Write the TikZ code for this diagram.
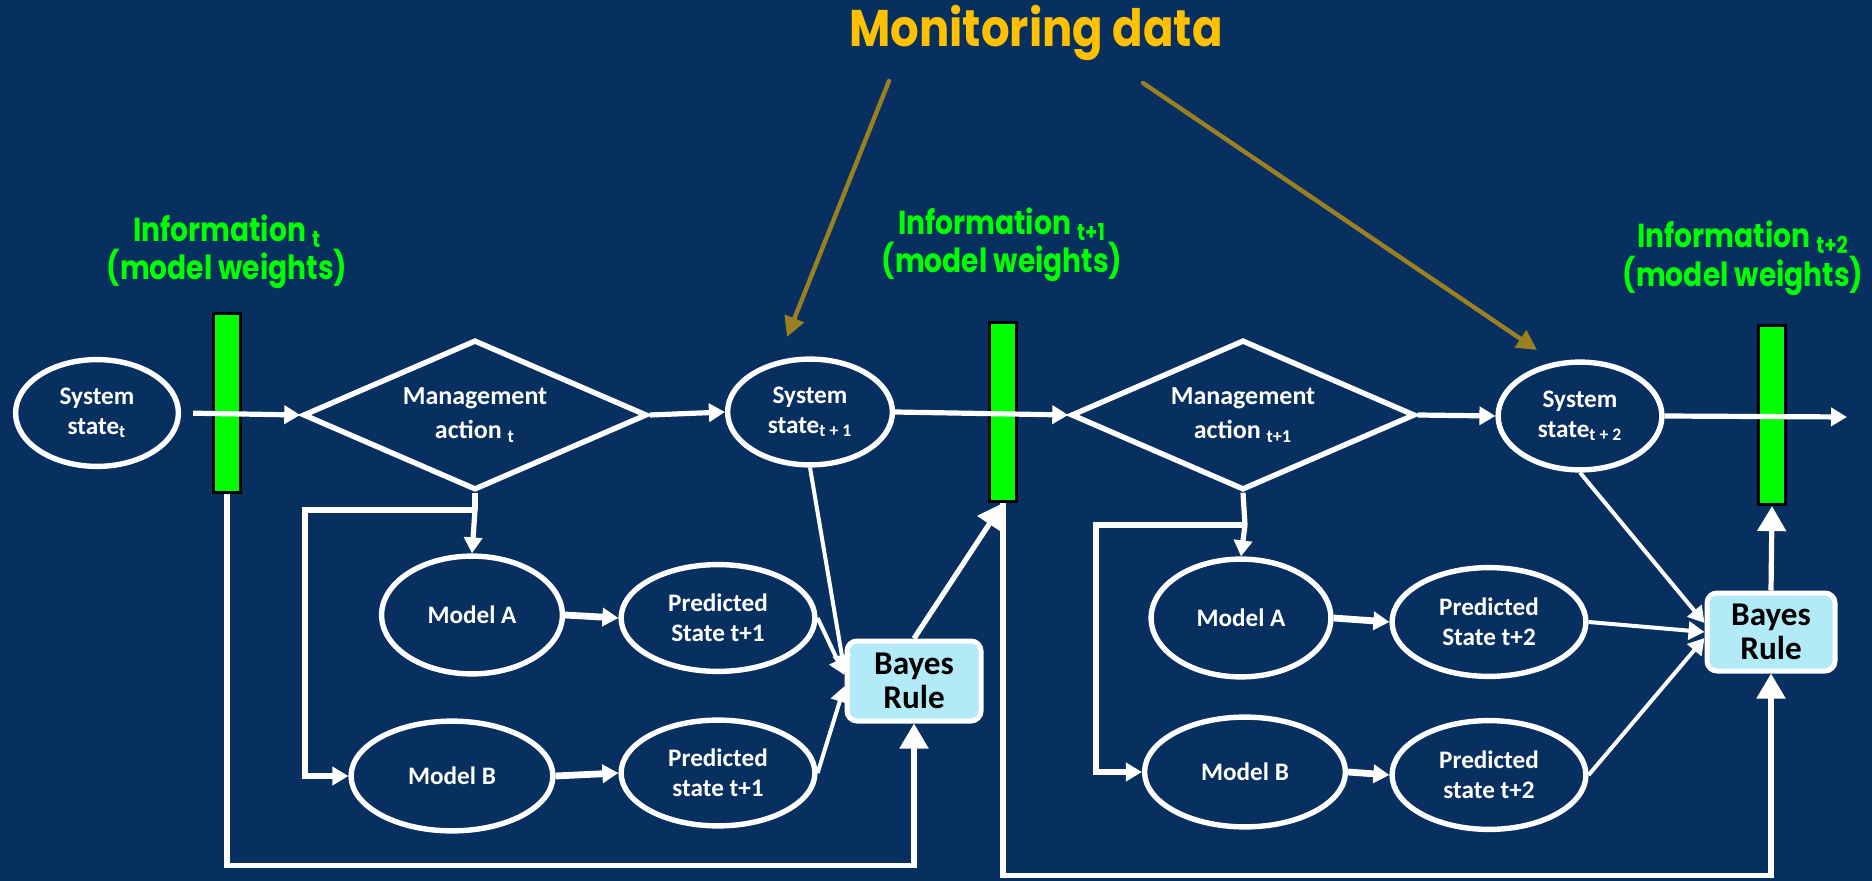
\documentclass[tikz,border=0pt]{standalone}
\usepackage{fontspec}
\usepackage{graphicx}
\setmainfont{Carlito}
\newfontfamily\geo{Poppins}
\usetikzlibrary{shapes.geometric,arrows.meta,calc}
\definecolor{bg}{RGB}{7,47,95}
\definecolor{barg}{RGB}{0,255,0}
\definecolor{lblg}{RGB}{0,255,0}
\definecolor{gold}{RGB}{154,128,34}
\definecolor{ttl}{RGB}{255,192,0}
\definecolor{bayesfill}{RGB}{178,234,248}
\newcommand\gx[1]{\scalebox{0.88}[1.04]{#1}}
\begin{document}
\begin{tikzpicture}[x=0.5pt,y=-0.5pt,
  state/.style={ellipse,draw=white,line width=2.7pt,fill=bg,text=white,
    font=\bfseries\fontsize{12.6}{15}\selectfont,align=center,inner sep=0pt},
  decision/.style={diamond,aspect=2.3,draw=white,line width=2.7pt,fill=bg,text=white,
    font=\bfseries\fontsize{13}{17}\selectfont,align=center,inner sep=0pt,
    minimum width=172pt,minimum height=75pt},
  infobar/.style={rectangle,draw=black,fill=barg,line width=1.6pt,
    minimum width=13.5pt,minimum height=89.5pt,inner sep=0pt},
  bayesbox/.style={rectangle,rounded corners=5pt,draw=white,line width=2.5pt,
    fill=bayesfill,text=black,font=\bfseries\fontsize{16.6}{17}\selectfont,
    align=center,inner sep=0pt},
  lbl/.style={text=lblg,font=\geo\bfseries\fontsize{16}{18}\selectfont,inner sep=0pt},
  wire/.style={draw=white,line width=2.6pt},
  conn/.style={wire,-{Triangle[length=8pt,width=9pt]}},
  thickconn/.style={draw=white,line width=3.4pt,-{Triangle[length=8pt,width=9pt]}},
  thinconn/.style={draw=white,line width=2pt,-{Triangle[length=8pt,width=9pt]}},
  bigconn/.style={wire,-{Triangle[length=12.5pt,width=14pt]}},
  goldarrow/.style={draw=gold,line width=2.2pt,line cap=round,-{Triangle[length=10pt,width=10pt]}}
]
\fill[bg] (0,0) rectangle (1872,881);
\useasboundingbox (0,0) rectangle (1872,881);

% title and labels
\node[text=ttl,font=\geo\bfseries\fontsize{25}{28}\selectfont,anchor=base,inner sep=0pt] (title) at (1036,47) {\scalebox{0.9}[1.03]{Monitoring data}};
\node[lbl,anchor=base] (i0a) at (227,242) {\gx{Information \textsubscript{t}}};
\node[lbl,anchor=base] (i0b) at (227,280) {\gx{(model weights)}};
\node[lbl,anchor=base] (i1a) at (1002,235) {\gx{Information \textsubscript{t+1}}};
\node[lbl,anchor=base] (i1b) at (1002,273) {\gx{(model weights)}};
\node[lbl,anchor=base] (i2a) at (1743,248) {\gx{Information \textsubscript{t+2}}};
\node[lbl,anchor=base] (i2b) at (1743,287) {\gx{(model weights)}};

% top row
\node[state,minimum width=81.4pt,minimum height=53.4pt] (s0) at (97,413) {System\\state\textsubscript{t}};
\node[infobar] (bar0) at (227,403) {};
\node[decision] (d0) at (475,415) {Management\\action \textsubscript{t}};
\node[state,minimum width=82.4pt,minimum height=52.9pt] (s1) at (810,412) {System\\state\textsubscript{t + 1}};
\node[infobar] (bar1) at (1003,412) {};
\node[decision] (d1) at (1243,415) {Management\\action \textsubscript{t+1}};
\node[state,minimum width=81.9pt,minimum height=53.9pt] (s2) at (1580,416) {System\\state\textsubscript{t + 2}};
\node[infobar] (bar2) at (1772,415) {};
\coordinate (out) at (1847,417);

% lower left group
\node[state,minimum width=90.4pt,minimum height=58.9pt] (ma0) at (472,615) {Model A};
\node[state,minimum width=96.9pt,minimum height=53.4pt] (pa0) at (718,618) {Predicted\\State t+1};
\node[state,minimum width=100.9pt,minimum height=54.9pt] (mb0) at (452,776) {Model B};
\node[state,minimum width=96.9pt,minimum height=52.9pt] (pb0) at (718,773) {Predicted\\state t+1};
\node[bayesbox,minimum width=67pt,minimum height=40pt] (by0) at (914,681) {Bayes\\Rule};

% lower right group
\node[state,minimum width=89.9pt,minimum height=58.9pt] (ma1) at (1241,618) {Model A};
\node[state,minimum width=96.9pt,minimum height=54.4pt] (pa1) at (1489,622) {Predicted\\State t+2};
\node[state,minimum width=100.4pt,minimum height=54.9pt] (mb1) at (1245,772) {Model B};
\node[state,minimum width=96.9pt,minimum height=54.4pt] (pb1) at (1489,775) {Predicted\\state t+2};
\node[bayesbox,minimum width=64pt,minimum height=39pt] (by1) at (1771,632) {Bayes\\Rule};

% top row connectors
\draw[conn,shorten <=6pt] (s0.east) -- (d0.west);
\draw[conn] (d0.east) -- (s1.west);
\draw[conn] (s1.east) -- (d1.west);
\draw[conn] (d1.east) -- (s2.west);
\draw[conn] (s2.east) -- (out);

% left group connectors
\coordinate (j0) at (475,510);
\draw[wire] (d0.south) -- (j0);
\draw[conn] (j0) -- (ma0.north);
\draw[conn] (j0) -- ++(-170,0) |- (mb0.west);
\draw[thickconn] (ma0.east) -- (pa0.west);
\draw[thickconn] (mb0.east) -- (pb0.west);
\draw[thinconn] (pa0.east) -- ($(by0.west)+(0,-6)$);
\draw[thinconn] (pb0.east) -- ($(by0.west)+(0,5)$);
\draw[thinconn] (s1.south) -- ($(by0.west)+(0,-10)$);
\draw[bigconn] (bar0.south) -- ++(0,371) -| (by0.south);
\draw[bigconn] (by0.north) -- (bar1.south);

% right group connectors
\coordinate (j1) at (1245,525);
\draw[wire] (d1.south) -- (j1);
\draw[conn] (j1) -- (ma1.north);
\draw[conn] (j1) -- ++(-149,0) |- (mb1.west);
\draw[thickconn] (ma1.east) -- (pa1.west);
\draw[thickconn] (mb1.east) -- (pb1.west);
\draw[thinconn] (pa1.east) -- (by1.west);
\draw[thinconn] (pb1.east) -- ($(by1.west)+(0,6)$);
\draw[thinconn] (s2.south) -- ($(by1.west)+(0,-9)$);
\draw[bigconn] (bar1.south) -- ++(0,372) -| (by1.south);
\draw[bigconn] (by1.north) -- (bar2.south);

% monitoring data arrows
\coordinate (g1s) at (889,81);
\coordinate (g1e) at (787,337);
\coordinate (g2s) at (1143,83);
\coordinate (g2e) at (1537,350);
\draw[goldarrow] (g1s) -- (g1e);
\draw[goldarrow] (g2s) -- (g2e);
\end{tikzpicture}
\end{document}
